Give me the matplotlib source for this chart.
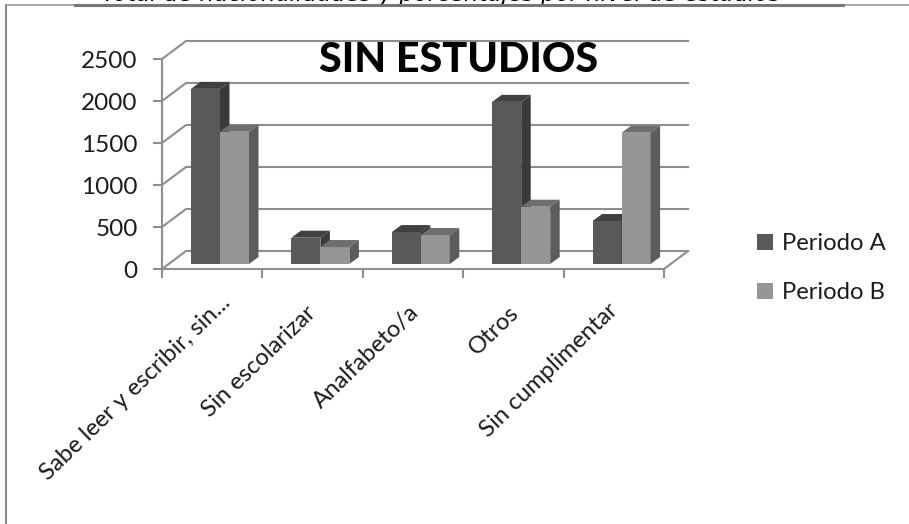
import matplotlib
matplotlib.use('Agg')
import matplotlib.pyplot as plt
from matplotlib.patches import Patch, Polygon

plt.rcParams['font.family'] = ['Lato', 'DejaVu Sans']

categories = ['Sabe leer y escribir, sin...', 'Sin escolarizar', 'Analfabeto/a', 'Otros', 'Sin cumplimentar']
periodo_a = [2085, 313, 380, 1930, 512]
periodo_b = [1575, 202, 345, 682, 1563]
y_ticks = [0, 500, 1000, 1500, 2000, 2500]

W, H = 909, 524
GRID = '#8e8e8e'
TEXT = '#1c1c1c'

fig = plt.figure(figsize=(W / 100, H / 100), dpi=100)
ax = fig.add_axes([162 / W, 1 - 269 / H, 502 / W, 210 / H])
ax.set_xlim(0, len(categories))
ax.set_ylim(0, 2500)
ax.patch.set_visible(False)

# one pixel in data units
px = len(categories) / 502
py = 2500 / 210
wall_dx, wall_dy = 24 * px, 18 * py
bar_dx, bar_dy = 9.5 * px, 7 * py
base = 5 * py
bar_w = 29 * px
bar_off = 29 * px


def poly(pts, color, z):
    ax.add_patch(Polygon(pts, closed=True, fc=color, ec='none', zorder=z, clip_on=False))


def bar3d(x, v, front, top, side, z):
    x1 = x + bar_w
    poly([(x, base), (x1, base), (x1, v + base), (x, v + base)], front, z)
    poly([(x, v + base), (x1, v + base), (x1 + bar_dx, v + base + bar_dy), (x + bar_dx, v + base + bar_dy)], top, z)
    poly([(x1, base), (x1 + bar_dx, base + bar_dy), (x1 + bar_dx, v + base + bar_dy), (x1, v + base)], side, z)


# back wall and side wall
for t in y_ticks:
    ax.plot([0, wall_dx, len(categories) + wall_dx], [t, t + wall_dy, t + wall_dy],
            color=GRID, lw=1.5, clip_on=False, zorder=1)
ax.plot([len(categories), len(categories) + wall_dx], [0, wall_dy], color=GRID, lw=1.5, clip_on=False, zorder=1)

for i, (a, b) in enumerate(zip(periodo_a, periodo_b)):
    bar3d(i + bar_off, a, '#595959', '#404040', '#3a3a3a', 3)
    bar3d(i + bar_off + bar_w, b, '#969696', '#6e6e6e', '#5c5c5c', 4)

for s in ['top', 'right']:
    ax.spines[s].set_visible(False)
for s in ['left', 'bottom']:
    ax.spines[s].set_color(GRID)
    ax.spines[s].set_linewidth(1.5)

ax.set_yticks(y_ticks)
ax.set_xticks(range(len(categories) + 1))
ax.set_xticklabels([])
ax.tick_params(axis='both', color=GRID, width=1.5, length=6.5)
ax.tick_params(axis='y', labelsize=17.5, labelcolor=TEXT, pad=11)

label_ends = [(220, 292), (305, 302), (408, 302), (508, 302), (607, 300)]
for name, (ex, ey) in zip(categories, label_ends):
    fig.text(ex / W, 1 - ey / H, name, rotation=44, rotation_mode='anchor',
             ha='right', va='top', fontsize=17.2, color=TEXT)

fig.text(459 / W, 1 - 72 / H, 'SIN ESTUDIOS', ha='center', va='baseline',
         fontsize=29.7, fontweight='black', color='black', zorder=10)

ax.legend(handles=[Patch(fc='#595959', label='Periodo A'), Patch(fc='#969696', label='Periodo B')],
          loc='upper left', bbox_to_anchor=(750 / W, 1 - 226 / H), bbox_transform=fig.transFigure,
          frameon=False, fontsize=17.2, handlelength=0.65, handleheight=0.65, handletextpad=0.4,
          labelspacing=1.18, labelcolor=TEXT, borderpad=0.3, borderaxespad=0)

# frame of the pasted chart, caption above it is cut by the crop
fig.add_artist(plt.Line2D([5.5 / W, 5.5 / W], [0, 1 - 5 / H], color='#8a8a8a', lw=1.5, zorder=5))
fig.add_artist(plt.Line2D([5.5 / W, 1], [1 - 5 / H, 1 - 5 / H], color='#9a9a9a', lw=1.2, zorder=5))
fig.add_artist(plt.Line2D([75 / W, 843 / W], [1 - 4.5 / H, 1 - 4.5 / H], color='#777777', lw=2.2, zorder=6))
fig.text(102 / W, 1 - 0.5 / H, 'Total de nacionalidades y porcentajes por nivel de estudios',
         ha='left', va='baseline', fontsize=16.5, style='italic', family='DejaVu Sans', color='black', zorder=1)

fig.savefig('out.png', dpi=100)
